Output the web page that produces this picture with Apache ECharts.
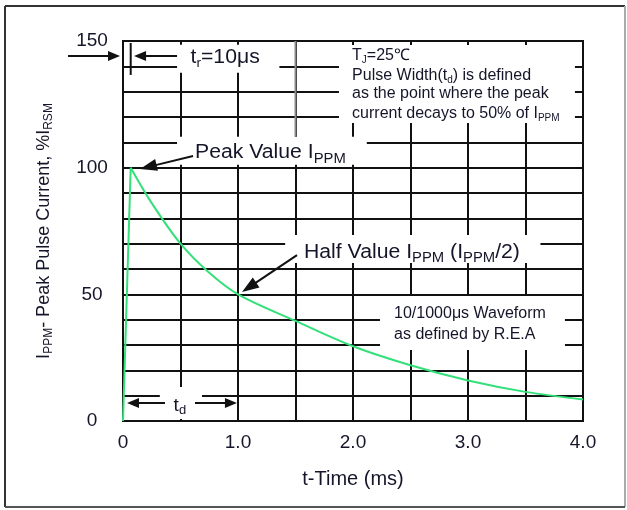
<!DOCTYPE html>
<html><head><meta charset="utf-8">
<script src="https://cdn.jsdelivr.net/npm/echarts@6/dist/echarts.min.js"></script>
<style>html,body{margin:0;padding:0;background:#fff}#c{width:627px;height:510px}</style>
</head><body><div id="c"></div>
<script>
// ---- data ----
const riseTime = [0, 0.067];
const riseCurrent = [0, 100];
const decayTime = [0.067, 0.25, 0.5, 0.75, 1.0, 1.5, 2.0, 2.5, 3.0, 3.5, 4.0];
const decayCurrent = [100, 86, 70, 58.5, 50, 39.5, 29.5, 22, 16, 11.5, 8.5];
const xTickValues = [0, 1, 2, 3, 4];
const xTickLabels = ['0', '1.0', '2.0', '3.0', '4.0'];
const yTickValues = [0, 50, 100, 150];
const yTickLabels = ['0', '50', '100', '150'];

const FONT = '"Liberation Sans", Arial, sans-serif';
const INK = '#15152a';
const GRID = '#111';

const chart = echarts.init(document.getElementById('c'), null, {renderer: 'canvas'});

const zip = (a, b) => a.map((v, i) => [v, b[i]]);

chart.setOption({
  animation: false,
  backgroundColor: '#fff',
  grid: {left: 123, top: 41, right: 44, bottom: 89, show: true, borderColor: GRID, borderWidth: 2, backgroundColor: 'transparent'},
  xAxis: {
    type: 'value', min: 0, max: 4, interval: 0.5,
    axisLine: {show: true, lineStyle: {color: GRID, width: 2}},
    axisTick: {show: false},
    splitLine: {show: true, lineStyle: {color: GRID, width: 2}},
    axisLabel: {
      margin: 12, fontSize: 19, fontFamily: FONT, color: INK,
      formatter: v => { const i = xTickValues.findIndex(t => Math.abs(t - v) < 1e-9); return i >= 0 ? xTickLabels[i] : ''; }
    },
    name: 't-Time (ms)', nameLocation: 'middle', nameGap: 48,
    nameTextStyle: {fontSize: 20, fontFamily: FONT, color: INK}
  },
  yAxis: {
    type: 'value', min: 0, max: 150, interval: 10,
    axisLine: {show: true, lineStyle: {color: GRID, width: 2}},
    axisTick: {show: false},
    splitLine: {show: true, lineStyle: {color: GRID, width: 2}},
    axisLabel: {
      margin: 31, align: 'center', fontSize: 19, fontFamily: FONT, color: INK,
      formatter: v => { const i = yTickValues.findIndex(t => Math.abs(t - v) < 1e-9); return i >= 0 ? yTickLabels[i] : ''; }
    },
    name: '{n|I}{s|PPM}{n|- Peak Pulse Current, %I}{s|RSM}', nameLocation: 'middle', nameGap: 68, nameRotate: 90,
    nameTextStyle: {
      fontSize: 18, fontFamily: FONT, color: INK,
      rich: {
        n: {fontSize: 18, fontFamily: FONT, color: INK},
        s: {fontSize: 12, fontFamily: FONT, color: INK, padding: [9, 0, 0, 0]}
      }
    }
  },
  series: [
    {type: 'line', data: zip(riseTime, riseCurrent), symbol: 'none', lineStyle: {color: '#33e07a', width: 2}, z: 3},
    {type: 'line', data: zip(decayTime, decayCurrent), symbol: 'none', smooth: 0.35, lineStyle: {color: '#33e07a', width: 2}, z: 3}
  ]
});

// ---- annotations (anchored in data units) ----
const P = (x, y) => chart.convertToPixel({gridIndex: 0}, [x, y]);

const whiteBoxes = [
  [0.47, 148.5, 1.36, 137.5],   // t_r label
  [1.878, 148.4, 3.93, 117.6],  // note box
  [0.47, 112.2, 2.12, 101.2],   // peak value
  [1.41, 73.4, 3.63, 62.4],     // half value
  [2.235, 49.3, 3.843, 28.0],   // waveform
  [0.32, 13.4, 0.687, 0.8]      // t_d
];

const g = [];
whiteBoxes.forEach(b => {
  const a = P(b[0], b[1]), c = P(b[2], b[3]);
  g.push({type: 'rect', z: 20, shape: {x: a[0], y: a[1], width: c[0] - a[0], height: c[1] - a[1]}, style: {fill: '#fff'}});
});

// gray segment of the 1.5 ms grid line near the top
{
  const a = P(1.5, 150), c = P(1.5, 112.2);
  g.push({type: 'line', z: 21, shape: {x1: a[0], y1: a[1], x2: c[0], y2: c[1]}, style: {stroke: '#8a8a8a', lineWidth: 2}});
}

function line(p1, p2, w) {
  g.push({type: 'line', z: 22, shape: {x1: p1[0], y1: p1[1], x2: p2[0], y2: p2[1]}, style: {stroke: '#111', lineWidth: w || 2}});
}
function arrow(from, to, len, half) {
  const f = P(from[0], from[1]), t = P(to[0], to[1]);
  const dx = t[0] - f[0], dy = t[1] - f[1], d = Math.hypot(dx, dy);
  const ux = dx / d, uy = dy / d;
  const bx = t[0] - ux * len, by = t[1] - uy * len;
  line(f, [bx + ux * 2, by + uy * 2], 2);
  g.push({type: 'polygon', z: 22, shape: {points: [[t[0], t[1]], [bx - uy * half, by + ux * half], [bx + uy * half, by - ux * half]]}, style: {fill: '#111'}});
}
function text(x, y, str, size, subSize, subPad, scaleX) {
  const p = P(x, y);
  g.push({
    type: 'text', z: 23, x: p[0], y: p[1], scaleX: scaleX || 1,
    style: {
      text: str, fill: INK, align: 'left', verticalAlign: 'middle',
      fontSize: size, fontFamily: FONT,
      rich: {
        n: {fontSize: size, fontFamily: FONT, fill: INK, color: INK},
        s: {fontSize: subSize, fontFamily: FONT, fill: INK, color: INK, padding: [subPad, 0, 0, 0]}
      }
    }
  });
}

// t_r marker
arrow([-0.478, 144.1], [-0.026, 144.1], 12, 5);
line(P(0.067, 149.2), P(0.067, 136.6), 2);
arrow([0.47, 144.1], [0.096, 144.1], 12, 5);
text(0.587, 143.3, '{n|t}{s|r}{n|=10μs}', 20, 13, 10, 1.06);

// note box
text(1.992, 144.1, '{n|T}{s|J}{n|=25℃}', 16, 10, 8, 1);
text(1.992, 136.2, '{n|Pulse Width(t}{s|d}{n|) is defined}', 16, 10, 8, 1);
text(1.992, 129.1, '{n|as the point where the peak}', 16, 10, 8, 1);
text(1.992, 121.2, '{n|current decays to 50% of I}{s|PPM}', 16, 10, 8, 1);

// peak value
arrow([0.609, 104.6], [0.148, 99.5], 17, 6);
text(0.626, 105.8, '{n|Peak Value I}{s|PPM}', 20, 14, 12, 1.06);

// half value
arrow([1.513, 65.5], [1.035, 50.9], 17, 6);
text(1.574, 66.7, '{n|Half Value I}{s|PPM}{n| (I}{s|PPM}{n|/2)}', 20, 14, 12, 1.06);

// waveform note
text(2.357, 42.2, '{n|10/1000μs Waveform}', 16, 10, 8, 1);
text(2.357, 34.3, '{n|as defined by R.E.A}', 16, 10, 8, 1);

// t_d marker
arrow([0.365, 7.1], [0.035, 7.1], 12, 5);
arrow([0.626, 7.1], [0.991, 7.1], 12, 5);
text(0.44, 6.0, '{n|t}{s|d}', 19, 13, 10, 1);

// outer frame
g.push({type: 'line', z: 30, shape: {x1: 5, y1: 6, x2: 625, y2: 6}, style: {stroke: '#333', lineWidth: 2}});
g.push({type: 'line', z: 30, shape: {x1: 5, y1: 6, x2: 5, y2: 507}, style: {stroke: '#333', lineWidth: 2}});
g.push({type: 'line', z: 30, shape: {x1: 625, y1: 6, x2: 625, y2: 507}, style: {stroke: '#aaa', lineWidth: 2}});
g.push({type: 'line', z: 30, shape: {x1: 5, y1: 507, x2: 625, y2: 507}, style: {stroke: '#555', lineWidth: 2}});

chart.setOption({graphic: g});
</script></body></html>
